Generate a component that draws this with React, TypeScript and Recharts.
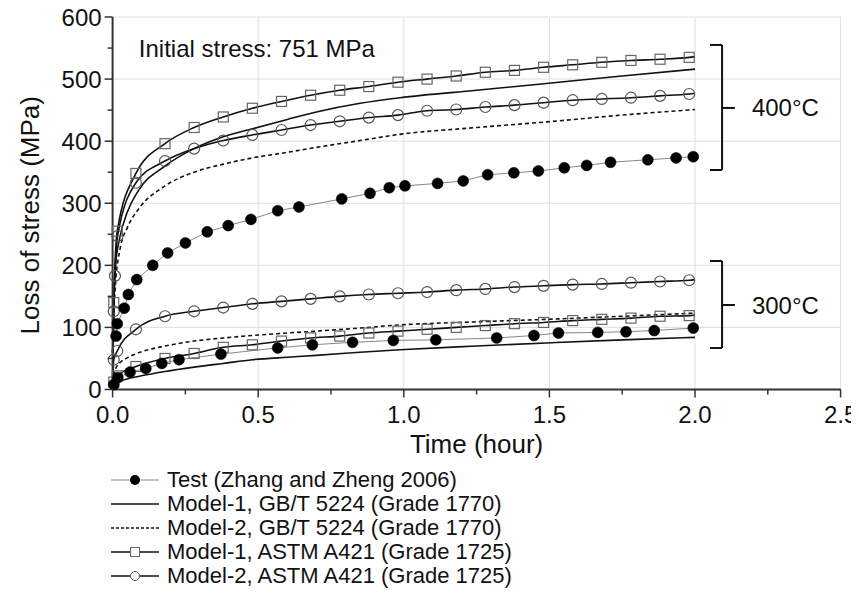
import React from "react";
import {
  CartesianGrid,
  Legend,
  Line,
  LineChart,
  ReferenceDot,
  ReferenceLine,
  XAxis,
  YAxis,
} from "recharts";

const font = '"Liberation Sans", Arial, sans-serif';

// test points, 400°C and 300°C
const testHotT = [0.012, 0.016, 0.04, 0.054, 0.083, 0.138, 0.189, 0.25, 0.325, 0.397, 0.475, 0.567, 0.64, 0.787, 0.884, 0.95, 1.004, 1.116, 1.204, 1.288, 1.378, 1.462, 1.551, 1.628, 1.71, 1.838, 1.935, 1.994];
const testHotV = [86, 106, 131, 153, 177, 200, 220, 236, 254, 264, 274, 288, 294, 307, 316, 325, 328, 332, 336, 346, 349, 352, 357, 361, 366, 370, 373, 375];
const testWarmT = [0.004, 0.018, 0.06, 0.114, 0.169, 0.228, 0.372, 0.567, 0.686, 0.824, 0.964, 1.11, 1.319, 1.447, 1.531, 1.666, 1.763, 1.86, 1.994];
const testWarmV = [8, 19, 28, 34, 42, 48, 57, 67, 72, 76, 79, 80, 83, 87, 91, 92, 93, 95, 99];

// GB/T 5224 model curves (no markers)
const gbT = [0, 0.003, 0.01, 0.025, 0.05, 0.088, 0.18, 0.28, 0.38, 0.48, 0.6, 0.7, 0.85, 0.987, 1.25, 1.49, 1.75, 2.0];
const gb1HotV = [0, 130, 200, 245, 285, 320, 360, 388, 407, 420, 435, 447, 461, 470, 482, 493, 505, 516];
const gb2HotV = [0, 100, 170, 225, 260, 290, 328, 350, 363, 373, 382, 390, 401, 411, 422, 431, 442, 451];
const gb1WarmV = [0, 5, 9, 13, 17, 21, 29, 36, 42, 48, 52, 55, 60, 64, 70, 75, 80, 84];
const gb2WarmV = [0, 20, 33, 43, 51, 59, 70, 78, 83, 87, 91, 94, 99, 104, 109, 113, 118, 123];

// ASTM A421 model curves (with markers)
const astmT = [0, 0.004, 0.016, 0.08, 0.18, 0.28, 0.38, 0.48, 0.58, 0.68, 0.78, 0.88, 0.98, 1.08, 1.18, 1.28, 1.38, 1.48, 1.58, 1.68, 1.78, 1.88, 1.98, 2.0];
const astm1HotV = [0, 140, 255, 348, 396, 422, 439, 453, 464, 474, 482, 488, 495, 500, 505, 511, 514, 519, 523, 527, 530, 532, 535, 536];
const astm2HotT = [0, 0.004, 0.008, 0.017, 0.08, 0.18, 0.28, 0.38, 0.48, 0.58, 0.68, 0.78, 0.88, 0.98, 1.08, 1.18, 1.28, 1.38, 1.48, 1.58, 1.68, 1.78, 1.88, 1.98, 2.0];
const astm2HotV = [0, 126, 183, 247, 333, 368, 388, 401, 410, 418, 426, 432, 438, 442, 449, 451, 455, 458, 462, 466, 468, 470, 473, 476, 477];
const astm1WarmV = [0, 12, 22, 37, 50, 58, 68, 72, 78, 83, 86, 91, 94, 97, 100, 103, 106, 108, 111, 113, 115, 118, 119, 120];
const astm2WarmV = [0, 48, 62, 97, 118, 126, 132, 138, 142, 146, 150, 153, 155, 157, 160, 162, 165, 167, 169, 170, 172, 174, 176, 177];

const xTicks = [0, 0.25, 0.5, 0.75, 1, 1.25, 1.5, 1.75, 2, 2.25, 2.5];
const yTicks = [0, 50, 100, 150, 200, 250, 300, 350, 400, 450, 500, 550, 600];

const legendNames = [
  "Test (Zhang and Zheng 2006)",
  "Model-1, GB/T 5224 (Grade 1770)",
  "Model-2, GB/T 5224 (Grade 1770)",
  "Model-1, ASTM A421 (Grade 1725)",
  "Model-2, ASTM A421 (Grade 1725)",
];

const zip = (ts: number[], vs: number[]) => ts.map((t, i) => ({ t, v: vs[i] }));

const XTick = (props: any) => {
  const { x, y, payload } = props;
  const major = Math.abs(payload.value * 2 - Math.round(payload.value * 2)) < 1e-6;
  return (
    <g>
      <line x1={x} x2={x} y1={y} y2={y + (major ? 8 : 5)} stroke="#333" strokeWidth={1.5} />
      {major && (
        <text x={x} y={y + 33.5} textAnchor="middle" fontSize={24} fontFamily={font} fill="#111">
          {payload.value.toFixed(1)}
        </text>
      )}
    </g>
  );
};

const YTick = (props: any) => {
  const { x, y, payload } = props;
  const major = payload.value % 100 === 0;
  return (
    <g>
      <line x1={x - (major ? 8 : 5)} x2={x} y1={y} y2={y} stroke="#333" strokeWidth={1.5} />
      {major && (
        <text x={x - 11} y={y + 8.5} textAnchor="end" fontSize={24} fontFamily={font} fill="#111">
          {payload.value}
        </text>
      )}
    </g>
  );
};

const YTitle = (props: any) => {
  const { viewBox } = props;
  const cx = viewBox.x + 30;
  const cy = viewBox.y + viewBox.height / 2 + 12;
  return (
    <text
      x={cx}
      y={cy}
      transform={`rotate(-90 ${cx} ${cy})`}
      textAnchor="middle"
      dy={9}
      fontSize={26}
      fontFamily={font}
      fill="#111"
    >
      Loss of stress (MPa)
    </text>
  );
};

const noMarker = (p: any) => p.payload.t === 0 || p.payload.t === 2;

const SquareDot = (p: any) =>
  noMarker(p) ? (
    <g key={p.key ?? p.index} />
  ) : (
    <rect key={p.key ?? p.index} x={p.cx - 5} y={p.cy - 5} width={10} height={10} fill="none" stroke="#666" strokeWidth={1.2} />
  );

const CircleDot = (p: any) =>
  noMarker(p) ? (
    <g key={p.key ?? p.index} />
  ) : (
    <circle key={p.key ?? p.index} cx={p.cx} cy={p.cy} r={5.5} fill="none" stroke="#555" strokeWidth={1.2} />
  );

const LegendSymbol = ({ i }: { i: number }) => (
  <svg width={48} height={24} style={{ display: "block" }}>
    <line
      x1={0}
      x2={48}
      y1={12}
      y2={12}
      stroke={i === 0 ? "#888" : "#111"}
      strokeWidth={i === 0 ? 1.2 : 1.6}
      strokeDasharray={i === 2 ? "3 2" : undefined}
    />
    {i === 0 && <circle cx={24} cy={12} r={5} fill="#000" />}
    {i === 3 && <rect x={19.5} y={7.5} width={9} height={9} fill="#fff" stroke="#666" strokeWidth={1} />}
    {i === 4 && <circle cx={24} cy={12} r={4.5} fill="#fff" stroke="#555" strokeWidth={1} />}
  </svg>
);

const renderLegend = () => (
  <div style={{ height: 120, paddingLeft: 111, fontFamily: font }}>
    {legendNames.map((name, i) => (
      <div key={name} style={{ display: "flex", alignItems: "center", height: 24 }}>
        <LegendSymbol i={i} />
        <span style={{ marginLeft: 8, fontSize: 22, color: "#111", whiteSpace: "nowrap" }}>{name}</span>
      </div>
    ))}
  </div>
);

const bracket = { foot: 2.0515, spine: 2.093, tip: 2.137 };

export default function App() {
  return (
    <div style={{ margin: -8, width: 859, height: 603, background: "#fff" }}>
      <LineChart width={859} height={603} margin={{ top: 17, right: 18.4, left: 0, bottom: 15 }}>
        <CartesianGrid
          stroke="#dedede"
          strokeWidth={1}
          horizontalValues={[100, 200, 300, 400, 500, 600]}
          verticalValues={[0.5, 1, 1.5, 2, 2.5]}
        />
        <XAxis
          type="number"
          dataKey="t"
          domain={[0, 2.5]}
          ticks={xTicks}
          interval={0}
          tickSize={0}
          tickMargin={0}
          tickLine={false}
          tick={<XTick />}
          axisLine={{ stroke: "#333", strokeWidth: 2 }}
          height={78.5}
          label={{ value: "Time (hour)", position: "insideBottom", offset: 15, fontSize: 26, fontFamily: font, fill: "#111" }}
        />
        <YAxis
          type="number"
          domain={[0, 600]}
          ticks={yTicks}
          interval={0}
          tickSize={0}
          tickMargin={0}
          tickLine={false}
          tick={<YTick />}
          axisLine={{ stroke: "#333", strokeWidth: 2 }}
          width={112.6}
          label={<YTitle />}
        />
        <Legend verticalAlign="bottom" align="left" layout="horizontal" content={renderLegend} />

        <Line data={zip(gbT, gb1HotV)} dataKey="v" type="monotone" stroke="#111" strokeWidth={1.6} dot={false} isAnimationActive={false} />
        <Line data={zip(gbT, gb2HotV)} dataKey="v" type="monotone" stroke="#111" strokeWidth={1.6} strokeDasharray="4 3" dot={false} isAnimationActive={false} />
        <Line data={zip(gbT, gb1WarmV)} dataKey="v" type="monotone" stroke="#111" strokeWidth={1.6} dot={false} isAnimationActive={false} />
        <Line data={zip(gbT, gb2WarmV)} dataKey="v" type="monotone" stroke="#111" strokeWidth={1.6} strokeDasharray="4 3" dot={false} isAnimationActive={false} />

        <Line data={zip(astmT, astm1HotV)} dataKey="v" type="monotone" stroke="#111" strokeWidth={1.6} dot={SquareDot} isAnimationActive={false} />
        <Line data={zip(astm2HotT, astm2HotV)} dataKey="v" type="monotone" stroke="#111" strokeWidth={1.6} dot={CircleDot} isAnimationActive={false} />
        <Line data={zip(astmT, astm1WarmV)} dataKey="v" type="monotone" stroke="#111" strokeWidth={1.6} dot={SquareDot} isAnimationActive={false} />
        <Line data={zip(astmT, astm2WarmV)} dataKey="v" type="monotone" stroke="#111" strokeWidth={1.6} dot={CircleDot} isAnimationActive={false} />

        <Line data={zip(testHotT, testHotV)} dataKey="v" type="linear" stroke="#888" strokeWidth={1} dot={{ r: 5.5, fill: "#000", stroke: "#000", strokeWidth: 0.5 }} isAnimationActive={false} />
        <Line data={zip(testWarmT, testWarmV)} dataKey="v" type="linear" stroke="#888" strokeWidth={1} dot={{ r: 5.5, fill: "#000", stroke: "#000", strokeWidth: 0.5 }} isAnimationActive={false} />

        {/* temperature brackets */}
        <ReferenceLine segment={[{ x: bracket.foot, y: 555 }, { x: bracket.spine, y: 555 }]} stroke="#111" strokeWidth={2} />
        <ReferenceLine segment={[{ x: bracket.spine, y: 555 }, { x: bracket.spine, y: 353.6 }]} stroke="#111" strokeWidth={2} />
        <ReferenceLine segment={[{ x: bracket.foot, y: 353.6 }, { x: bracket.spine, y: 353.6 }]} stroke="#111" strokeWidth={2} />
        <ReferenceLine
          segment={[{ x: bracket.spine, y: 453.5 }, { x: bracket.tip, y: 453.5 }]}
          stroke="#111"
          strokeWidth={2}
          label={{ value: "400°C", position: "right", offset: 17, fontSize: 24, fontFamily: font, fill: "#111" }}
        />
        <ReferenceLine segment={[{ x: bracket.foot, y: 207 }, { x: bracket.spine, y: 207 }]} stroke="#111" strokeWidth={2} />
        <ReferenceLine segment={[{ x: bracket.spine, y: 207 }, { x: bracket.spine, y: 66.8 }]} stroke="#111" strokeWidth={2} />
        <ReferenceLine segment={[{ x: bracket.foot, y: 66.8 }, { x: bracket.spine, y: 66.8 }]} stroke="#111" strokeWidth={2} />
        <ReferenceLine
          segment={[{ x: bracket.spine, y: 136.1 }, { x: bracket.tip, y: 136.1 }]}
          stroke="#111"
          strokeWidth={2}
          label={{ value: "300°C", position: "right", offset: 17, fontSize: 24, fontFamily: font, fill: "#111" }}
        />

        <ReferenceDot
          x={0.09}
          y={548.5}
          r={0}
          fill="none"
          stroke="none"
          label={{ value: "Initial stress: 751 MPa", position: "right", offset: 0, fontSize: 24, fontFamily: font, fill: "#111" }}
        />
      </LineChart>
    </div>
  );
}
